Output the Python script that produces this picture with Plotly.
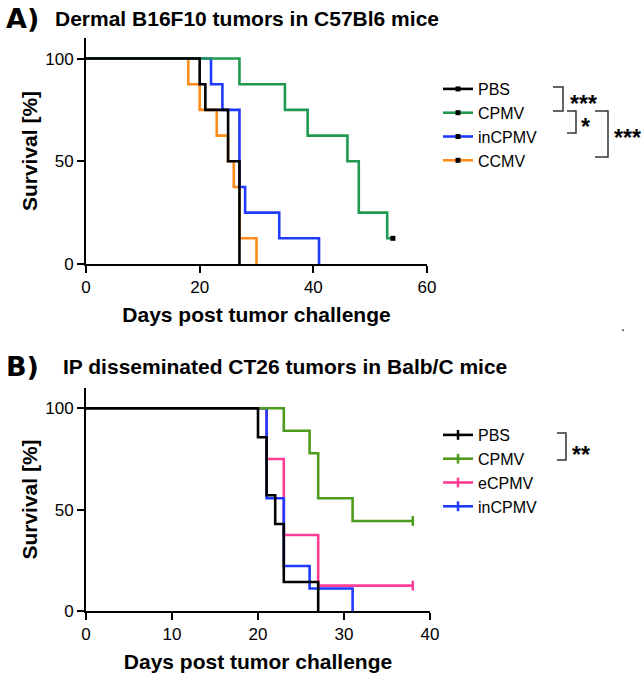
import plotly.graph_objects as go

W, H = 644, 675

# ---------------- Panel A: Dermal B16F10 (n = 8 per group) ----------------
a_names = ["PBS", "CPMV", "inCPMV", "CCMV"]
a_pbs_days = [0, 20, 21, 25, 27]
a_pbs_surv = [100, 87.5, 75, 50, 0]
a_cpmv_days = [0, 27, 35, 39, 46, 48, 53, 54]
a_cpmv_surv = [100, 87.5, 75, 62.5, 50, 25, 12.5, 12.5]
a_incpmv_days = [0, 22, 24, 27, 28, 34, 41]
a_incpmv_surv = [100, 87.5, 75, 37.5, 25, 12.5, 0]
a_ccmv_days = [0, 18, 20, 23, 25, 26, 27, 30]
a_ccmv_surv = [100, 87.5, 75, 62.5, 50, 37.5, 12.5, 0]
a_censor_days = {"PBS": [], "CPMV": [54], "inCPMV": [], "CCMV": []}
a_censor_surv = {"PBS": [], "CPMV": [12.5], "inCPMV": [], "CCMV": []}
a_xticks = [0, 20, 40, 60]

# ---------------- Panel B: IP CT26 ----------------
b_names = ["PBS", "CPMV", "eCPMV", "inCPMV"]
b_pbs_days = [0, 20, 21, 22, 23, 27]
b_pbs_surv = [100, 85.7, 57.1, 42.9, 14.3, 0]
b_cpmv_days = [0, 23, 26, 27, 31, 38]
b_cpmv_surv = [100, 88.9, 77.8, 55.6, 44.4, 44.4]
b_ecpmv_days = [0, 21, 23, 27, 38]
b_ecpmv_surv = [100, 75, 37.5, 12.5, 12.5]
b_incpmv_days = [0, 21, 23, 26, 31]
b_incpmv_surv = [100, 55.6, 22.2, 11.1, 0]
b_censor_days = {"PBS": [], "CPMV": [38], "eCPMV": [38], "inCPMV": []}
b_censor_surv = {"PBS": [], "CPMV": [44.4], "eCPMV": [12.5], "inCPMV": []}
b_xticks = [0, 10, 20, 30, 40]

y_ticks = [0, 50, 100]

a_colors = {"PBS": "#000000", "CPMV": "#1f9a50", "inCPMV": "#1f3bff", "CCMV": "#ff8c1a"}
b_colors = {"PBS": "#000000", "CPMV": "#4f9b1c", "eCPMV": "#ff3d96", "inCPMV": "#1f3bff"}

a_data = {"PBS": (a_pbs_days, a_pbs_surv), "CPMV": (a_cpmv_days, a_cpmv_surv),
          "inCPMV": (a_incpmv_days, a_incpmv_surv), "CCMV": (a_ccmv_days, a_ccmv_surv)}
b_data = {"PBS": (b_pbs_days, b_pbs_surv), "CPMV": (b_cpmv_days, b_cpmv_surv),
          "eCPMV": (b_ecpmv_days, b_ecpmv_surv), "inCPMV": (b_incpmv_days, b_incpmv_surv)}

FONT = "Liberation Sans, Arial, Helvetica, sans-serif"

fig = go.Figure()

def add_panel(names, data, colors, cdays, csurv, draw_order, xa, ya, legend, marker):
    for n in draw_order:
        d, s = data[n]
        fig.add_trace(go.Scatter(x=d, y=s, mode="lines", line=dict(color=colors[n], width=2.6, shape="hv"),
                                 xaxis=xa, yaxis=ya, showlegend=False, legendgroup=legend + n,
                                 hoverinfo="skip"))
    for rank, n in enumerate(names):
        cx = cdays[n] if cdays[n] else [None]
        cy = csurv[n] if csurv[n] else [None]
        mk = dict(marker)
        if mk.get("color") is None:
            mk["color"] = colors[n]
            mk["line"] = dict(color=colors[n], width=2.5)
        fig.add_trace(go.Scatter(x=cx, y=cy, mode="lines+markers", name=n,
                                 line=dict(color=colors[n], width=2.6),
                                 marker=mk, xaxis=xa, yaxis=ya, legend=legend,
                                 legendgroup=legend + n, legendrank=rank + 1, hoverinfo="skip"))

add_panel(a_names, a_data, a_colors, a_censor_days, a_censor_surv,
          ["CCMV", "inCPMV", "CPMV", "PBS"], "x", "y", "legend",
          dict(symbol="square", size=5, color="#000000"))
add_panel(b_names, b_data, b_colors, b_censor_days, b_censor_surv,
          ["eCPMV", "inCPMV", "CPMV", "PBS"], "x2", "y2", "legend2",
          dict(symbol="line-ns", size=7, color=None))

def px_x(x):
    return x / W

def px_y(y):
    return 1 - y / H

axis_common = dict(showgrid=False, zeroline=False, showline=True, linecolor="black", linewidth=2,
                   ticks="outside", tickcolor="black", tickwidth=2, ticklen=7, automargin=False,
                   tickfont=dict(family=FONT, size=17, color="black"))
title_font = dict(family=FONT, size=21, color="black", weight="bold")

fig.update_layout(
    width=W, height=H, margin=dict(l=0, r=0, t=0, b=0, autoexpand=False),
    plot_bgcolor="white", paper_bgcolor="white",
    xaxis=dict(axis_common, domain=[px_x(86), px_x(427)], range=[0, 60], tickvals=a_xticks,
               anchor="y", title=dict(text="Days post tumor challenge", standoff=11, font=title_font)),
    yaxis=dict(axis_common, domain=[px_y(264), px_y(38)], range=[0, 110], tickvals=y_ticks,
               anchor="x", title=dict(text="Survival [%]", standoff=2, font=title_font)),
    xaxis2=dict(axis_common, domain=[px_x(86), px_x(430)], range=[0, 40], tickvals=b_xticks,
                anchor="y2", title=dict(text="Days post tumor challenge", standoff=11, font=title_font)),
    yaxis2=dict(axis_common, domain=[px_y(611), px_y(388)], range=[0, 110], tickvals=y_ticks,
                anchor="x2", title=dict(text="Survival [%]", standoff=2, font=title_font)),
    legend=dict(x=px_x(438), y=px_y(72), xanchor="left", yanchor="top", bgcolor="rgba(0,0,0,0)",
                font=dict(family=FONT, size=16, color="black"), itemwidth=30, traceorder="normal"),
    legend2=dict(x=px_x(438), y=px_y(418), xanchor="left", yanchor="top", bgcolor="rgba(0,0,0,0)",
                 font=dict(family=FONT, size=16, color="black"), itemwidth=30, traceorder="normal"),
)

star_font = dict(family=FONT, size=23, color="black", weight="bold")
ann = [
    dict(text="A)", x=px_x(4), y=px_y(19), xanchor="left", yanchor="middle",
         font=dict(family="DejaVu Sans", size=27, color="black", weight="bold")),
    dict(text="Dermal B16F10 tumors in C57Bl6 mice", x=px_x(53), y=px_y(19), xanchor="left",
         yanchor="middle", font=title_font),
    dict(text="B)", x=px_x(4), y=px_y(366), xanchor="left", yanchor="middle",
         font=dict(family="DejaVu Sans", size=27, color="black", weight="bold")),
    dict(text="IP disseminated CT26 tumors in Balb/C mice", x=px_x(61), y=px_y(366), xanchor="left",
         yanchor="middle", font=title_font),
    dict(text="***", x=px_x(583), y=px_y(104), xanchor="center", yanchor="middle", font=star_font),
    dict(text="*", x=px_x(585), y=px_y(127), xanchor="center", yanchor="middle", font=star_font),
    dict(text="***", x=px_x(627), y=px_y(138), xanchor="center", yanchor="middle", font=star_font),
    dict(text="**", x=px_x(581), y=px_y(455), xanchor="center", yanchor="middle", font=star_font),
    dict(text=".", x=px_x(623), y=px_y(326), xanchor="center", yanchor="middle",
         font=dict(family=FONT, size=14, color="black")),
]
for a in ann:
    fig.add_annotation(xref="paper", yref="paper", showarrow=False, **a)

def bracket(x0, x1, y0, y1):
    path = "M {0},{1} L {2},{1} L {2},{3} L {0},{3}".format(px_x(x0), px_y(y0), px_x(x1), px_y(y1))
    fig.add_shape(type="path", path=path, xref="paper", yref="paper",
                  line=dict(color="#333333", width=1.5))

bracket(553, 563, 87, 111)
bracket(567, 576, 111, 133)
bracket(595, 608, 111, 157)
bracket(557, 566, 433, 460)

fig.write_html("out.html", config={"displayModeBar": False},
               post_script="document.body.style.margin='0';document.body.style.padding='0';")
